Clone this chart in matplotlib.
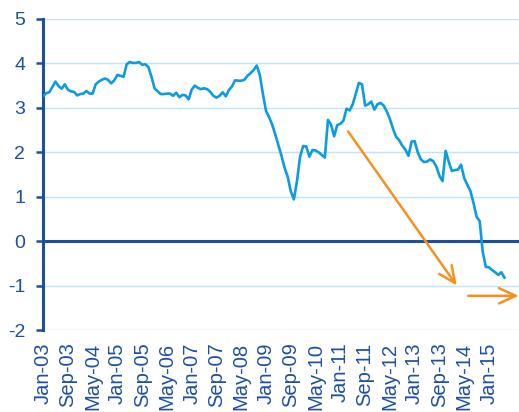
import matplotlib
matplotlib.use("Agg")
import matplotlib.pyplot as plt
import numpy as np

plt.rcParams['font.family'] = ['Liberation Sans', 'DejaVu Sans']
plt.rcParams['axes.unicode_minus'] = False

# monthly values, Jan-03 .. Jun-15
values = [
    3.26, 3.33, 3.35, 3.47, 3.59, 3.49, 3.43, 3.53, 3.41, 3.37, 3.36, 3.28,
    3.31, 3.32, 3.38, 3.32, 3.32, 3.53, 3.59, 3.63, 3.66, 3.63, 3.55, 3.62,
    3.74, 3.72, 3.70, 3.98, 4.03, 4.01, 4.01, 4.03, 3.97, 3.98, 3.92, 3.70,
    3.44, 3.37, 3.31, 3.31, 3.32, 3.32, 3.27, 3.34, 3.24, 3.29, 3.28, 3.19,
    3.41, 3.50, 3.45, 3.42, 3.44, 3.42, 3.36, 3.27, 3.23, 3.27, 3.35, 3.26,
    3.40, 3.48, 3.62, 3.61, 3.61, 3.63, 3.72, 3.78, 3.85, 3.95, 3.74, 3.31,
    2.93, 2.79, 2.62, 2.40, 2.16, 1.92, 1.65, 1.45, 1.12, 0.94, 1.35, 1.90,
    2.14, 2.13, 1.90, 2.05, 2.04, 2.00, 1.94, 1.88, 2.73, 2.62, 2.36, 2.61,
    2.64, 2.71, 2.98, 2.94, 3.08, 3.32, 3.56, 3.53, 3.05, 3.08, 3.14, 2.96,
    3.08, 3.11, 3.05, 2.92, 2.75, 2.53, 2.35, 2.27, 2.15, 2.06, 1.92, 2.24,
    2.25, 2.00, 1.84, 1.78, 1.79, 1.84, 1.80, 1.68, 1.47, 1.35, 2.03, 1.79,
    1.58, 1.60, 1.61, 1.72, 1.42, 1.27, 1.13, 0.86, 0.55, 0.45, -0.25, -0.58,
    -0.59, -0.65, -0.70, -0.76, -0.70, -0.82,
]
months = np.arange(len(values))

tick_labels = ['Jan-03', 'Sep-03', 'May-04', 'Jan-05', 'Sep-05', 'May-06',
               'Jan-07', 'Sep-07', 'May-08', 'Jan-09', 'Sep-09', 'May-10',
               'Jan-11', 'Sep-11', 'May-12', 'Jan-13', 'Sep-13', 'May-14',
               'Jan-15']
tick_pos = np.arange(len(tick_labels)) * 8

# trend arrows (start, end) in month / value units
arrow_down = ((98.5, 2.47), (133.6, -1.0))
arrow_flat = ((137.3, -1.23), (153.6, -1.23))

navy = '#1D4F9F'
line_blue = '#0C9CDF'
grid_blue = '#BDE4F7'
orange = '#F7901E'

fig = plt.figure(figsize=(5.19, 4.12), dpi=100)
ax = fig.add_axes([0.083, 0.199, 0.917, 0.755])

for y in [-2, -1, 1, 2, 3, 4, 5]:
    ax.axhline(y, color=grid_blue, lw=1.0, zorder=1)
ax.axhline(0, color=navy, lw=2.2, zorder=2)

ax.plot(months, values, color=line_blue, lw=1.9, zorder=3)

for (x0, y0), (x1, y1) in [arrow_down, arrow_flat]:
    ax.annotate('', xy=(x1, y1), xytext=(x0, y0),
                arrowprops=dict(arrowstyle='->,head_length=1.2,head_width=0.55',
                                color=orange, lw=1.8, shrinkA=0, shrinkB=0),
                annotation_clip=False, zorder=4)

ax.set_xlim(0, 153.7)
ax.set_ylim(-2, 5)
ax.set_yticks(range(-2, 6))
ax.set_xticks(tick_pos)
ax.set_xticklabels(tick_labels, rotation=90, fontsize=14.5, color=navy)
ax.tick_params(axis='x', length=0, pad=9)
ax.tick_params(axis='y', length=5, width=1.8, color=navy, labelsize=14,
               labelcolor=navy, pad=8)

for s in ['top', 'right', 'bottom']:
    ax.spines[s].set_visible(False)
ax.spines['left'].set_color(navy)
ax.spines['left'].set_linewidth(2.2)

fig.savefig('out.png', dpi=100)
